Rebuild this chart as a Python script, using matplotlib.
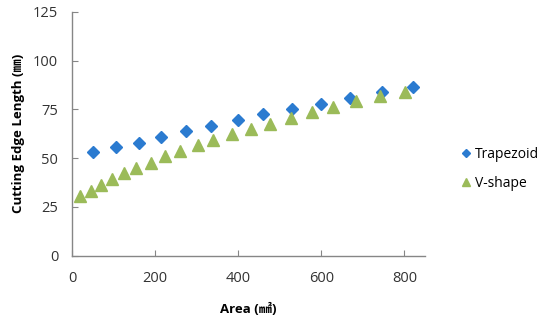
import matplotlib
matplotlib.use("Agg")
import matplotlib.pyplot as plt

trap_x = [50, 105, 160, 215, 275, 335, 400, 460, 530, 600, 670, 745, 820]
trap_y = [53, 55.5, 58, 61, 64, 66.5, 69.5, 72.5, 75, 78, 81, 84, 86.5]
v_x = [20, 45, 70, 96, 125, 155, 190, 224, 261, 303, 340, 386, 431, 476, 526, 577, 629, 683, 741, 801]
v_y = [30.5, 33.1, 36.2, 39.3, 42.2, 44.8, 47.6, 51.1, 53.8, 56.7, 59.3, 62.2, 64.8, 67.5, 70.7, 73.8, 76.1, 79.3, 82, 84.1]
x_ticks = [0, 200, 400, 600, 800]
y_ticks = [0, 25, 50, 75, 100, 125]

fam = ['Open Sans', 'Noto Sans CJK JP', 'DejaVu Sans']
plt.rcParams['font.family'] = fam

fig = plt.figure(figsize=(5.5, 3.24), dpi=100)
ax = fig.add_axes([0.131, 0.211, 0.642, 0.752])
ax.plot(trap_x, trap_y, linestyle='none', marker='D', markersize=6.3,
        color='#2B7BD0', label='Trapezoid')
ax.plot(v_x, v_y, linestyle='none', marker='^', markersize=8.5,
        color='#9BBB59', label='V-shape')
ax.set_xlim(0, 850)
ax.set_ylim(0, 125)
ax.set_xticks(x_ticks)
ax.set_yticks(y_ticks)
for s in ['top', 'right']:
    ax.spines[s].set_visible(False)
for s in ['left', 'bottom']:
    ax.spines[s].set_color('#868686')
    ax.spines[s].set_linewidth(1.0)
ax.tick_params(direction='in', length=4, color='#868686', labelsize=10.5,
               labelcolor='#333333')
ax.tick_params(axis='x', pad=11)
ax.tick_params(axis='y', pad=10)
ax.set_xlabel('Area (㎟)', fontsize=9.5, fontweight='bold', labelpad=12)
ax.set_ylabel('Cutting Edge Length (㎜)', fontsize=9.5, fontweight='bold', labelpad=6)
fig.legend(loc='center left', bbox_to_anchor=(462 / 550, 1 - 169 / 324),
           frameon=False, fontsize=10, handlelength=0.6, handletextpad=0.35,
           labelspacing=1.0, borderaxespad=0.0, borderpad=0.0, markerscale=0.7)
fig.savefig('out.png', dpi=100)
